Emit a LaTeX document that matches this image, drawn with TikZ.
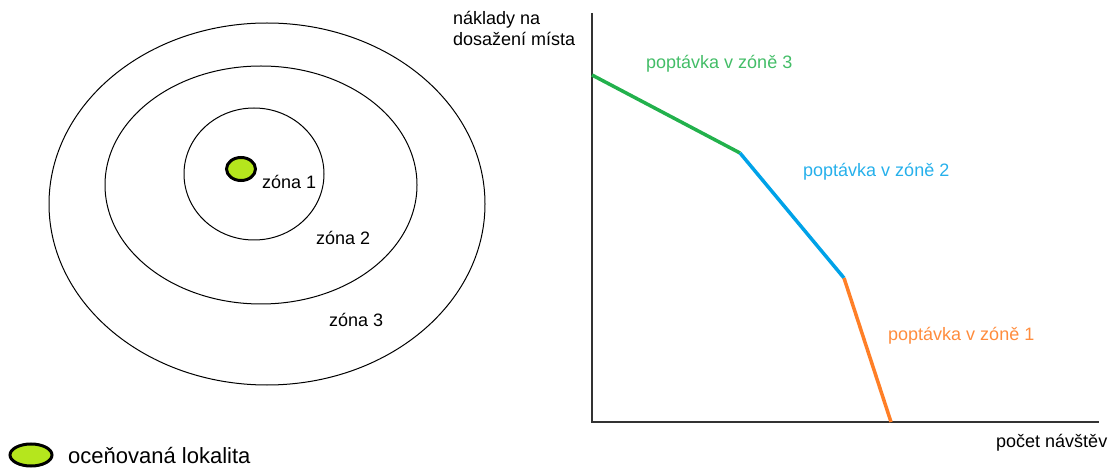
\documentclass[tikz,border=0pt]{standalone}
\usepackage{fontspec}
\setmainfont{Liberation Sans}
\definecolor{pgreen}{HTML}{22B14C}
\definecolor{pblue}{HTML}{00A2E8}
\definecolor{porange}{HTML}{FF7F27}
\definecolor{plime}{HTML}{B5E61D}
\begin{document}
\begin{tikzpicture}[x=1pt,y=-1pt,
  lbl/.style={inner sep=0pt,font=\fontsize{18}{21}\selectfont},
  zone/.style={draw=black,line width=1pt},
  spot/.style={draw=black,line width=3pt,fill=plime},
  axis/.style={draw=black!80,line width=1.6pt},
  seg/.style={line width=3.5pt}]
\useasboundingbox (0,0) rectangle (1114,470);
% zones
\draw[zone] (267,204) ellipse [x radius=218, y radius=181];
\draw[zone] (261,185) ellipse [x radius=156, y radius=119];
\draw[zone] (254,174) ellipse [x radius=70, y radius=66];
\draw[spot] (241,169) ellipse [x radius=14.5, y radius=11.5];
\node[lbl,anchor=west] (z1) at (262,182) {zóna 1};
\node[lbl,anchor=west] (z2) at (316,238) {zóna 2};
\node[lbl,anchor=west] (z3) at (329,320) {zóna 3};
% legend
\draw[spot] (31,455) ellipse [x radius=21, y radius=11];
\node[inner sep=0pt,anchor=west,font=\fontsize{22}{26}\selectfont] (leg) at (68,456) {oceňovaná lokalita};
% axes
\coordinate (top) at (592,13);
\coordinate (orig) at (592,422);
\coordinate (xend) at (1099,422);
\draw[axis] (top) -- (orig) -- (xend);
\node[lbl,anchor=north west,align=left] (ylab) at (453,11) {náklady na\\dosažení místa};
\node[lbl,anchor=west] (xlab) at (996,443) {počet návštěv};
% demand curve
\coordinate (p0) at (592,75);
\coordinate (p1) at (740,153);
\coordinate (p2) at (844,278);
\coordinate (p3) at (891,422);
\draw[seg,pgreen] (p0) -- (p1);
\draw[seg,pblue] (p1) -- (p2);
\draw[seg,porange] (p2) -- (p3);
\node[lbl,anchor=west,text=pgreen!85!white] (d3) at (646,64) {poptávka v zóně 3};
\node[lbl,anchor=west,text=pblue!85!white] (d2) at (803,172) {poptávka v zóně 2};
\node[lbl,anchor=west,text=porange!90!white] (d1) at (888,336) {poptávka v zóně 1};
\end{tikzpicture}
\end{document}
